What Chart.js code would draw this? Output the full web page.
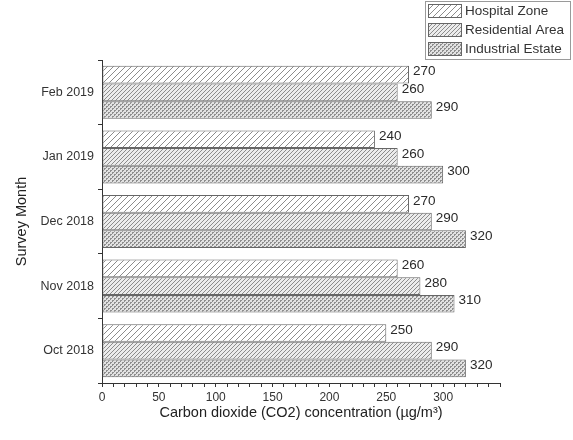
<!DOCTYPE html>
<html>
<head>
<meta charset="utf-8">
<script src="https://cdn.jsdelivr.net/npm/chart.js@4/dist/chart.umd.min.js"></script>
<style>
html,body{margin:0;padding:0;background:#fff;}
canvas{display:block;}
</style>
</head>
<body>
<canvas id="c" width="573" height="440" style="width:573px;height:440px"></canvas>
<script>
const months = ["Feb 2019", "Jan 2019", "Dec 2018", "Nov 2018", "Oct 2018"];
const hospitalZone = [270, 240, 270, 260, 250];
const residentialArea = [260, 260, 290, 280, 290];
const industrialEstate = [290, 300, 320, 310, 320];
const seriesNames = ["Hospital Zone", "Residential Area", "Industrial Estate"];
const xTickStep = 50;

const FONT = 'Arial, "Liberation Sans", sans-serif';

function makePattern(type) {
  const c = document.createElement('canvas');
  const g = c.getContext('2d');
  if (type === 'hosp') {
    const s = 6;
    c.width = s; c.height = s;
    g.fillStyle = '#ffffff'; g.fillRect(0, 0, s, s);
    g.strokeStyle = '#8c8c8c'; g.lineWidth = 1;
    g.beginPath();
    g.moveTo(-1, s + 1); g.lineTo(s + 1, -1);
    g.moveTo(-1, 1); g.lineTo(1, -1);
    g.moveTo(s - 1, s + 1); g.lineTo(s + 1, s - 1);
    g.stroke();
  } else if (type === 'res') {
    const s = 4;
    c.width = s; c.height = s;
    g.fillStyle = '#ececec'; g.fillRect(0, 0, s, s);
    g.strokeStyle = '#8c8c8c'; g.lineWidth = 1;
    g.beginPath();
    g.moveTo(-1, s + 1); g.lineTo(s + 1, -1);
    g.moveTo(-1, 1); g.lineTo(1, -1);
    g.moveTo(s - 1, s + 1); g.lineTo(s + 1, s - 1);
    g.stroke();
  } else {
    const s = 4;
    c.width = s; c.height = s;
    g.fillStyle = '#e2e2e2'; g.fillRect(0, 0, s, s);
    g.fillStyle = '#8e8e8e';
    g.fillRect(0, 0, 2, 1); g.fillRect(0, 0, 1, 2);
    g.fillRect(2, 2, 2, 1); g.fillRect(2, 2, 1, 2);
  }
  return document.getElementById('c').getContext('2d').createPattern(c, 'repeat');
}

const patterns = [makePattern('hosp'), makePattern('res'), makePattern('ind')];
const seriesData = [hospitalZone, residentialArea, industrialEstate];

const valueLabels = {
  id: 'valueLabels',
  afterDatasetsDraw(chart) {
    const ctx = chart.ctx;
    ctx.save();
    ctx.font = '13.5px ' + FONT;
    ctx.fillStyle = '#2a2a2a';
    ctx.textAlign = 'left';
    ctx.textBaseline = 'middle';
    chart.data.datasets.forEach((ds, i) => {
      const meta = chart.getDatasetMeta(i);
      meta.data.forEach((bar, j) => {
        ctx.fillText(String(ds.data[j]), bar.x + 4, bar.y - 3);
      });
    });
    ctx.restore();
  }
};

const legendBox = {
  id: 'legendBox',
  afterDraw(chart) {
    const ctx = chart.ctx;
    ctx.save();
    ctx.strokeStyle = '#9a9a9a';
    ctx.lineWidth = 1;
    ctx.strokeRect(425.5, 1.5, 145, 58);
    ctx.font = '13.5px ' + FONT;
    ctx.textBaseline = 'middle';
    seriesNames.forEach((name, i) => {
      const cy = 11 + i * 19;
      ctx.fillStyle = patterns[i];
      ctx.fillRect(428, cy - 7, 34, 14);
      ctx.strokeStyle = '#666';
      ctx.strokeRect(428.5, cy - 6.5, 33, 13);
      ctx.fillStyle = '#333';
      ctx.fillText(name, 465, cy);
    });
    ctx.restore();
  }
};

new Chart(document.getElementById('c'), {
  type: 'bar',
  data: {
    labels: months,
    datasets: seriesNames.map((n, i) => ({
      label: n,
      data: seriesData[i],
      backgroundColor: patterns[i],
      borderColor: '#666',
      borderWidth: 1,
      borderSkipped: false,
      categoryPercentage: 0.82,
      barPercentage: 1.0
    }))
  },
  options: {
    indexAxis: 'y',
    responsive: false,
    animation: false,
    devicePixelRatio: 1,
    layout: { padding: { top: 60, right: 73, left: 0, bottom: 0 } },
    plugins: { legend: { display: false }, tooltip: { enabled: false } },
    scales: {
      x: {
        min: 0, max: 350,
        afterFit(s) { s.height = 57; },
        border: { display: true, color: '#333', width: 1 },
        grid: { drawOnChartArea: false, tickLength: 4, color: '#333' },
        ticks: {
          stepSize: 10, autoSkip: false, maxRotation: 0, padding: 3,
          color: '#333', font: { family: FONT, size: 12 },
          callback: (v) => (v % xTickStep === 0 && v <= 300) ? String(v) : ''
        },
        title: {
          display: true,
          text: 'Carbon dioxide (CO2) concentration (µg/m³)',
          color: '#222',
          font: { family: FONT, size: 14.5 },
          padding: { top: 0, bottom: 18 }
        }
      },
      y: {
        afterFit(s) { s.width = 102; },
        border: { display: true, color: '#333', width: 1 },
        grid: { drawOnChartArea: false, tickLength: 4, color: '#333', offset: true },
        ticks: {
          padding: 4, color: '#333',
          font: { family: FONT, size: 12.5 }
        },
        title: {
          display: true,
          text: 'Survey Month',
          color: '#222',
          font: { family: FONT, size: 14.5 },
          padding: { top: 13, bottom: 0 }
        }
      }
    }
  },
  plugins: [valueLabels, legendBox]
});
</script>
</body>
</html>
